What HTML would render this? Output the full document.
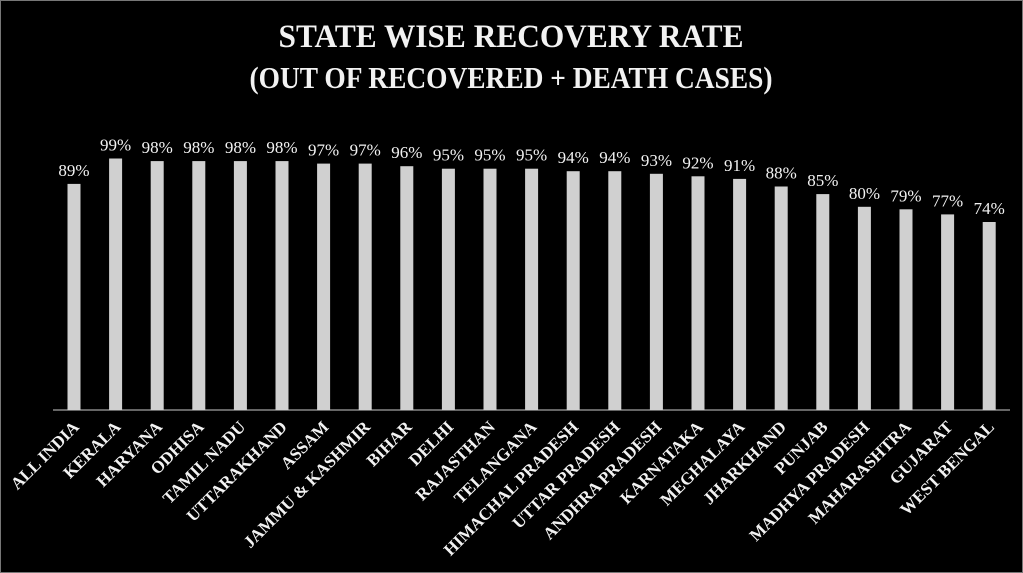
<!DOCTYPE html>
<html><head><meta charset="utf-8"><style>
html,body{margin:0;padding:0;background:#000;}
svg{display:block;}
</style></head><body>
<svg width="1023" height="573" xmlns="http://www.w3.org/2000/svg">
<rect x="0" y="0" width="1023" height="573" fill="#000"/>
<rect x="0.5" y="0.5" width="1022" height="572" fill="none" stroke="#777" stroke-width="1"/>
<g font-family="'Liberation Serif', serif" fill="#f2f2f2" font-weight="bold">
<text x="511" y="47" text-anchor="middle" font-size="33" textLength="465" lengthAdjust="spacingAndGlyphs">STATE WISE RECOVERY RATE</text>
<text x="511" y="88" text-anchor="middle" font-size="31" textLength="523" lengthAdjust="spacingAndGlyphs">(OUT OF RECOVERED + DEATH CASES)</text>
</g>
<line x1="53" y1="410" x2="1010" y2="410" stroke="#888" stroke-width="1.5"/>
<g fill="#d0d0d0">
<rect x="67.5" y="183.9" width="13" height="226.1"/>
<rect x="109.1" y="158.5" width="13" height="251.5"/>
<rect x="150.7" y="161.1" width="13" height="248.9"/>
<rect x="192.3" y="161.1" width="13" height="248.9"/>
<rect x="233.9" y="161.1" width="13" height="248.9"/>
<rect x="275.5" y="161.1" width="13" height="248.9"/>
<rect x="317.1" y="163.6" width="13" height="246.4"/>
<rect x="358.7" y="163.6" width="13" height="246.4"/>
<rect x="400.3" y="166.2" width="13" height="243.8"/>
<rect x="441.9" y="168.7" width="13" height="241.3"/>
<rect x="483.5" y="168.7" width="13" height="241.3"/>
<rect x="525.1" y="168.7" width="13" height="241.3"/>
<rect x="566.7" y="171.2" width="13" height="238.8"/>
<rect x="608.3" y="171.2" width="13" height="238.8"/>
<rect x="649.9" y="173.8" width="13" height="236.2"/>
<rect x="691.5" y="176.3" width="13" height="233.7"/>
<rect x="733.1" y="178.9" width="13" height="231.1"/>
<rect x="774.7" y="186.5" width="13" height="223.5"/>
<rect x="816.3" y="194.1" width="13" height="215.9"/>
<rect x="857.9" y="206.8" width="13" height="203.2"/>
<rect x="899.5" y="209.3" width="13" height="200.7"/>
<rect x="941.1" y="214.4" width="13" height="195.6"/>
<rect x="982.7" y="222.0" width="13" height="188.0"/>
</g>
<g font-family="'Liberation Serif', serif" font-size="17" fill="#f2f2f2" text-anchor="middle">
<text x="74" y="176">89%</text>
<text x="115.6" y="150.5">99%</text>
<text x="157.2" y="153">98%</text>
<text x="198.8" y="153">98%</text>
<text x="240.4" y="153">98%</text>
<text x="282" y="153">98%</text>
<text x="323.6" y="155.6">97%</text>
<text x="365.2" y="155.6">97%</text>
<text x="406.8" y="158.2">96%</text>
<text x="448.4" y="160.7">95%</text>
<text x="490" y="160.7">95%</text>
<text x="531.6" y="160.7">95%</text>
<text x="573.2" y="163.2">94%</text>
<text x="614.8" y="163.2">94%</text>
<text x="656.4" y="165.8">93%</text>
<text x="698" y="168.3">92%</text>
<text x="739.6" y="170.9">91%</text>
<text x="781.2" y="178.5">88%</text>
<text x="822.8" y="186.1">85%</text>
<text x="864.4" y="198.8">80%</text>
<text x="906" y="201.3">79%</text>
<text x="947.6" y="206.4">77%</text>
<text x="989.2" y="214">74%</text>
</g>
<g font-family="'Liberation Serif', serif" font-size="17" font-weight="bold" fill="#f2f2f2" text-anchor="end">
<g transform="translate(80,428) rotate(-45)"><text>ALL INDIA</text></g>
<g transform="translate(121.6,428) rotate(-45)"><text>KERALA</text></g>
<g transform="translate(163.2,428) rotate(-45)"><text>HARYANA</text></g>
<g transform="translate(204.8,428) rotate(-45)"><text>ODHISA</text></g>
<g transform="translate(246.4,428) rotate(-45)"><text>TAMIL NADU</text></g>
<g transform="translate(288,428) rotate(-45)"><text>UTTARAKHAND</text></g>
<g transform="translate(329.6,428) rotate(-45)"><text>ASSAM</text></g>
<g transform="translate(371.2,428) rotate(-45)"><text>JAMMU &amp; KASHMIR</text></g>
<g transform="translate(412.8,428) rotate(-45)"><text>BIHAR</text></g>
<g transform="translate(454.4,428) rotate(-45)"><text>DELHI</text></g>
<g transform="translate(496,428) rotate(-45)"><text>RAJASTHAN</text></g>
<g transform="translate(537.6,428) rotate(-45)"><text>TELANGANA</text></g>
<g transform="translate(579.2,428) rotate(-45)"><text>HIMACHAL PRADESH</text></g>
<g transform="translate(620.8,428) rotate(-45)"><text>UTTAR PRADESH</text></g>
<g transform="translate(662.4,428) rotate(-45)"><text>ANDHRA PRADESH</text></g>
<g transform="translate(704,428) rotate(-45)"><text>KARNATAKA</text></g>
<g transform="translate(745.6,428) rotate(-45)"><text>MEGHALAYA</text></g>
<g transform="translate(787.2,428) rotate(-45)"><text>JHARKHAND</text></g>
<g transform="translate(828.8,428) rotate(-45)"><text>PUNJAB</text></g>
<g transform="translate(870.4,428) rotate(-45)"><text>MADHYA PRADESH</text></g>
<g transform="translate(912,428) rotate(-45)"><text>MAHARASHTRA</text></g>
<g transform="translate(953.6,428) rotate(-45)"><text>GUJARAT</text></g>
<g transform="translate(995.2,428) rotate(-45)"><text>WEST BENGAL</text></g>
</g>
</svg>
</body></html>
